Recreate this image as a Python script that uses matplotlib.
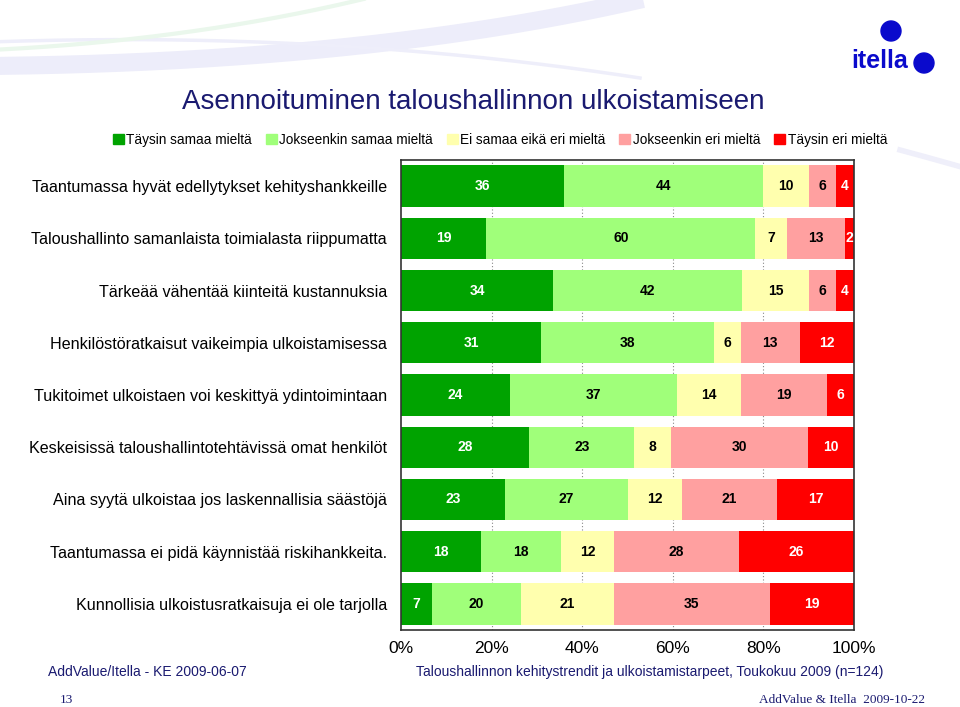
import matplotlib
matplotlib.use("Agg")
import matplotlib.pyplot as plt
import numpy as np
from matplotlib.patches import Circle

categories = [
    "Taantumassa hyvät edellytykset kehityshankkeille",
    "Taloushallinto samanlaista toimialasta riippumatta",
    "Tärkeää vähentää kiinteitä kustannuksia",
    "Henkilöstöratkaisut vaikeimpia ulkoistamisessa",
    "Tukitoimet ulkoistaen voi keskittyä ydintoimintaan",
    "Keskeisissä taloushallintotehtävissä omat henkilöt",
    "Aina syytä ulkoistaa jos laskennallisia säästöjä",
    "Taantumassa ei pidä käynnistää riskihankkeita.",
    "Kunnollisia ulkoistusratkaisuja ei ole tarjolla",
]
series_names = ["Täysin samaa mieltä", "Jokseenkin samaa mieltä",
                "Ei samaa eikä eri mieltä", "Jokseenkin eri mieltä", "Täysin eri mieltä"]
taysin_samaa = [36, 19, 34, 31, 24, 28, 23, 18, 7]
jokseenkin_samaa = [44, 60, 42, 38, 37, 23, 27, 18, 20]
ei_samaa_eika_eri = [10, 7, 15, 6, 14, 8, 12, 12, 21]
jokseenkin_eri = [6, 13, 6, 13, 19, 30, 21, 28, 35]
taysin_eri = [4, 2, 4, 12, 6, 10, 17, 26, 19]
xtick_labels = ["0%", "20%", "40%", "60%", "80%", "100%"]

colors = ["#00A300", "#A0FF7A", "#FFFFAE", "#FFA0A0", "#FF0000"]
text_colors = ["white", "black", "black", "black", "white"]
navy = "#1A1A70"

plt.rcParams['font.family'] = ['Liberation Sans', 'DejaVu Sans']

fig = plt.figure(figsize=(9.6, 7.07), dpi=100)
W, H = 960, 707

# faint background swooshes (decoration)
bg = fig.add_axes([0, 0, 1, 1], zorder=-5)
bg.set_xlim(0, W); bg.set_ylim(H, 0); bg.axis('off')
t = np.linspace(0, 1, 300)


def bez(p0, p1, p2):
    p0, p1, p2 = map(np.array, (p0, p1, p2))
    pts = ((1 - t) ** 2)[:, None] * p0 + (2 * (1 - t) * t)[:, None] * p1 + (t ** 2)[:, None] * p2
    return pts[:, 0], pts[:, 1]


bx, by = bez((-10, 66), (380, 62), (660, -5))
bg.plot(bx, by, color="#EDEDFA", lw=13, solid_capstyle='butt')
lx, ly = bez((-10, 42), (330, 30), (640, 78))
bg.plot(lx, ly, color="#EEEEFA", lw=2.5)
gx, gy = bez((-10, 50), (200, 40), (380, -5))
bg.plot(gx, gy, color="#EAF7EC", lw=3)
rx, ry = bez((900, 150), (930, 158), (965, 168))
bg.plot(rx, ry, color="#EFEFFA", lw=4)

data = np.array([taysin_samaa, jokseenkin_samaa, ei_samaa_eika_eri, jokseenkin_eri, taysin_eri], dtype=float)
totals = data.sum(axis=0)
frac = data / totals

ax = fig.add_axes([401 / W, 1 - 630 / H, 453 / W, 470 / H])
y = np.arange(len(categories))
left = np.zeros(len(categories))
for i in range(5):
    ax.barh(y, frac[i], left=left, height=0.79, color=colors[i], zorder=2, label=series_names[i])
    for j in range(len(categories)):
        ax.text(left[j] + frac[i][j] / 2, y[j], f"{int(data[i][j])}", ha='center', va='center',
                color=text_colors[i], fontsize=10, fontweight='bold', zorder=3)
    left += frac[i]

ax.set_xlim(0, 1)
ax.set_ylim(len(categories) - 0.5, -0.5)
ax.set_xticks(np.linspace(0, 1, 6))
ax.set_xticklabels(xtick_labels, fontsize=12.5)
ax.tick_params(axis='x', length=0, pad=8)
ax.set_yticks(y)
ax.set_yticklabels(categories, fontsize=11.6)
ax.tick_params(axis='y', length=0, pad=10)
for xv in [0.2, 0.4, 0.6, 0.8]:
    ax.axvline(xv, color="#888888", lw=0.8, ls=(0, (1, 2)), zorder=1)
for s in ax.spines.values():
    s.set_color("#333333")
    s.set_linewidth(1.2)

# title
fig.text(473 / W, 1 - 102 / H, "Asennoituminen taloushallinnon ulkoistamiseen", ha='center', va='center',
         fontsize=20, color=navy)

# legend
handles = [plt.Rectangle((0, 0), 1, 1, color=c) for c in colors]
fig.legend(handles, series_names, loc='center', bbox_to_anchor=(500 / W, 1 - 140 / H), ncol=5,
           frameon=False, fontsize=9.8, handlelength=0.8, handleheight=0.8, handletextpad=0.2,
           columnspacing=1.0)

# footers
fig.text(48 / W, 1 - 672 / H, "AddValue/Itella - KE 2009-06-07", ha='left', va='center', fontsize=10, color=navy)
fig.text(650 / W, 1 - 672 / H, "Taloushallinnon kehitystrendit ja ulkoistamistarpeet, Toukokuu 2009 (n=124)",
         ha='center', va='center', fontsize=10, color=navy)
fig.text(60 / W, 1 - 700 / H, "13", ha='left', va='center', fontsize=9.5, color=navy, family='Liberation Serif')
fig.text(925 / W, 1 - 700 / H, "AddValue & Itella  2009-10-22", ha='right', va='center', fontsize=9.5,
         color=navy, family='Liberation Serif')

# logo
logo_blue = "#0A0ACC"
bg.add_patch(Circle((891, 31), 10, color=logo_blue, zorder=5))
bg.add_patch(Circle((924, 63), 10, color=logo_blue, zorder=5))
bg.text(880, 61, "itella", ha='center', va='center', fontsize=18, fontweight='bold', color=logo_blue,
        family=['Liberation Sans Narrow', 'Liberation Sans'], zorder=5)

fig.savefig("out.png", dpi=100)
